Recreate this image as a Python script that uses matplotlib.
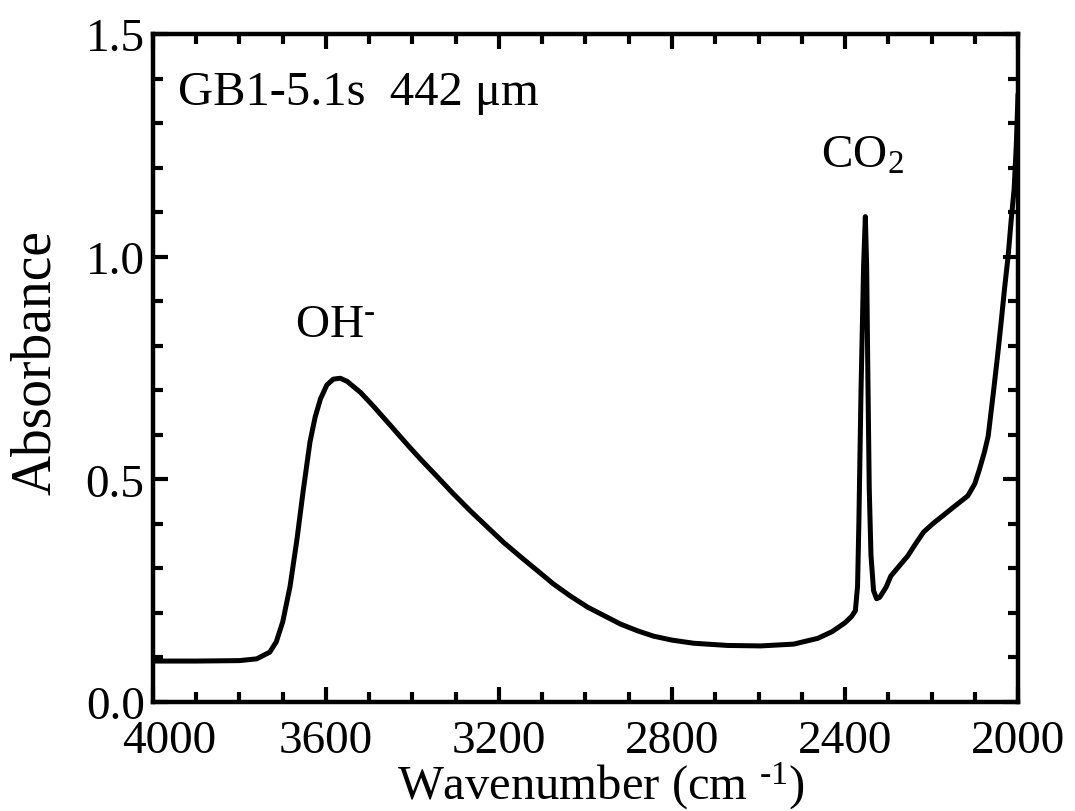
import numpy as np
import matplotlib
matplotlib.use("Agg")
import matplotlib.pyplot as plt
from matplotlib.ticker import MultipleLocator
from matplotlib.transforms import ScaledTranslation

plt.rcParams["font.family"] = ["Liberation Serif", "DejaVu Serif"]
plt.rcParams["mathtext.fontset"] = "custom"
plt.rcParams["mathtext.rm"] = "Liberation Serif"
plt.rcParams["mathtext.it"] = "Liberation Serif:italic"
plt.rcParams["mathtext.bf"] = "Liberation Serif:bold"

# IR spectrum of sample GB1-5.1s (442 um thick)
wavenumber = [
    4000, 3900, 3800, 3760, 3730, 3715, 3700, 3683, 3667, 3653, 3637, 3625,
    3613, 3598, 3583, 3567, 3551, 3520, 3491, 3450, 3412, 3382, 3336, 3306,
    3265, 3227, 3190, 3150, 3110, 3074, 3035, 2995, 2955, 2919, 2880, 2843,
    2800, 2750, 2671, 2595, 2519, 2463, 2430, 2400, 2385, 2376, 2371, 2368,
    2363, 2357, 2353, 2350, 2347, 2344, 2340, 2334, 2327, 2320, 2305, 2294,
    2275, 2255, 2235, 2218, 2195, 2178, 2150, 2116, 2100, 2090, 2078, 2069,
    2056, 2047, 2039, 2031, 2023, 2016, 2009, 2004, 2000,
]
absorbance = [
    0.092, 0.092, 0.093, 0.097, 0.112, 0.135, 0.180, 0.260, 0.366, 0.472, 0.584, 0.640,
    0.680, 0.712, 0.725, 0.727, 0.720, 0.695, 0.665, 0.620, 0.578, 0.546, 0.499, 0.468,
    0.428, 0.393, 0.359, 0.326, 0.294, 0.265, 0.238, 0.213, 0.193, 0.175, 0.160, 0.148,
    0.139, 0.132, 0.127, 0.126, 0.130, 0.143, 0.158, 0.178, 0.192, 0.205, 0.260, 0.400,
    0.700, 0.980, 1.090, 0.980, 0.720, 0.480, 0.330, 0.250, 0.232, 0.235, 0.258, 0.283,
    0.305, 0.328, 0.358, 0.382, 0.402, 0.415, 0.437, 0.463, 0.490, 0.520, 0.560, 0.597,
    0.703, 0.780, 0.853, 0.930, 1.000, 1.080, 1.152, 1.250, 1.365,
]

x_ticks = [4000, 3600, 3200, 2800, 2400, 2000]
y_ticks = [0.0, 0.5, 1.0, 1.5]

HYPHEN = "\u2010"

fig = plt.figure(figsize=(10.75, 8.12), dpi=100)
ax = fig.add_axes([0.1423, 0.1342, 0.8047, 0.8227])

ax.plot(wavenumber, absorbance, color="black", lw=3.6,
        solid_joinstyle="round", solid_capstyle="round")

ax.set_xlim(4000, 2000)
ax.set_ylim(0, 1.5)
ax.set_xticks(x_ticks)
ax.set_xticklabels([str(t) for t in x_ticks])
ax.set_yticks(y_ticks)
ax.set_yticklabels([f"{t:.1f}" for t in y_ticks])
ax.xaxis.set_minor_locator(MultipleLocator(100))
ax.yaxis.set_minor_locator(MultipleLocator(0.1))

ax.tick_params(which="both", direction="in", top=True, right=True,
               labelsize=34, width=3)
ax.tick_params(which="major", length=11)
ax.tick_params(which="minor", length=7)
ax.tick_params(axis="x", pad=12.5)
ax.tick_params(axis="y", pad=6)
for s in ax.spines.values():
    s.set_linewidth(3.2)

# nudge the first x label right so it clears "0.0"
first = ax.get_xticklabels()[0]
first.set_transform(first.get_transform() + ScaledTranslation(0.16, 0, fig.dpi_scale_trans))

ax.set_xlabel("Wavenumber (cm $\\mathregular{^{" + HYPHEN + "1}}$)", fontsize=35)
ax.xaxis.label.set_va("baseline")
ax.xaxis.set_label_coords(0.518, -0.145)

ax.set_ylabel("Absorbance", fontsize=40)
ax.yaxis.set_label_coords(-0.105, 0.51)

ax.text(0.029, 0.895, "GB1-5.1s  442 \u03bcm", transform=ax.transAxes,
        fontsize=35, ha="left", va="baseline")
ax.text(3671, 0.822, "OH$\\mathregular{^{" + HYPHEN + "}}$", fontsize=34,
        ha="left", va="baseline")
ax.text(2456, 1.201, r"CO$\mathregular{_2}$", fontsize=34, ha="left", va="baseline")

fig.savefig("out.png", dpi=100)
